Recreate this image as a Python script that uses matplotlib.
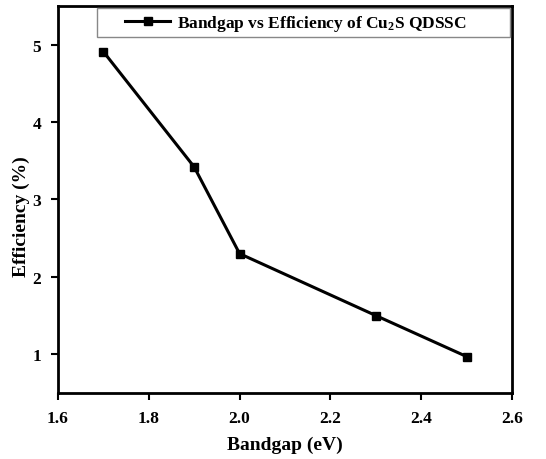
import matplotlib
matplotlib.use("Agg")
import matplotlib.pyplot as plt
import matplotlib.patches as patches

bandgap = [1.7, 1.9, 2.0, 2.3, 2.5]
efficiency = [4.91, 3.42, 2.30, 1.50, 0.97]
x_ticks = [1.6, 1.8, 2.0, 2.2, 2.4, 2.6]
y_ticks = [1, 2, 3, 4, 5]

plt.rcParams['font.family'] = ['Liberation Serif', 'DejaVu Serif']
plt.rcParams['font.weight'] = 'bold'
plt.rcParams['mathtext.fontset'] = 'custom'
plt.rcParams['mathtext.rm'] = 'Liberation Serif:bold'
plt.rcParams['mathtext.bf'] = 'Liberation Serif:bold'
plt.rcParams['mathtext.it'] = 'Liberation Serif:bold'

fig = plt.figure(figsize=(5.46, 4.6), dpi=100)
ax = fig.add_axes([0.106, 0.1435, 0.832, 0.8415])

ax.plot(bandgap, efficiency, color='black', linewidth=2.2, marker='s',
        markersize=6, label='Bandgap vs Efficiency of Cu$_\\mathbf{2}$S QDSSC')

ax.set_xlim(1.6, 2.6)
ax.set_ylim(0.5, 5.5)
ax.set_xticks(x_ticks)
ax.set_xticklabels([f'{t:.1f}' for t in x_ticks])
ax.set_yticks(y_ticks)
ax.tick_params(direction='out', length=5, width=1.5, labelsize=12.5, pad=7)
for s in ax.spines.values():
    s.set_linewidth(2)

ax.set_xlabel('Bandgap (eV)', fontsize=14, fontweight='bold', labelpad=7)
ax.set_ylabel('Efficiency (%)', fontsize=14, fontweight='bold')
ax.yaxis.set_label_coords(-0.062, 0.457)

# legend box drawn as its own frame, entry centred inside it
box = patches.Rectangle((0.086, 0.92), 0.91, 0.075, transform=ax.transAxes,
                        facecolor='white', edgecolor='#888888', linewidth=1,
                        zorder=4)
ax.add_patch(box)
leg = ax.legend(loc='center', bbox_to_anchor=(0.524, 0.955), frameon=False,
                handlelength=2.6, handletextpad=0.4, borderpad=0.0,
                prop={'weight': 'bold', 'size': 12.5})
leg.set_zorder(5)

fig.savefig('out.png', dpi=100)
